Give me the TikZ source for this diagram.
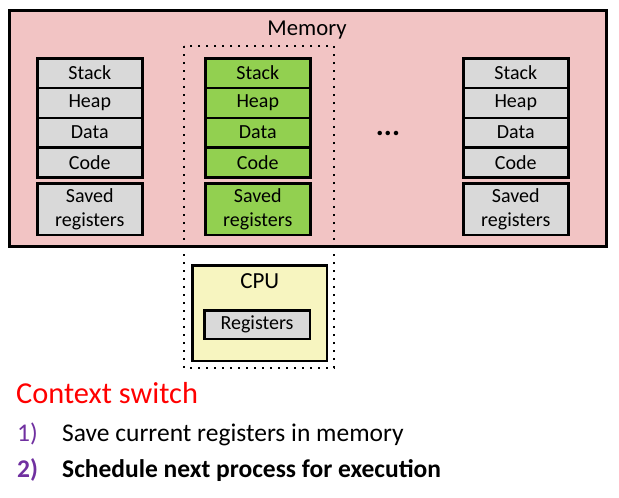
\documentclass[tikz,border=0pt]{standalone}
\usepackage{fontspec}
\setmainfont{Carlito}
\usetikzlibrary{positioning,calc}
\definecolor{mempink}{HTML}{F2C4C4}
\definecolor{seggray}{HTML}{D9D9D9}
\definecolor{activegreen}{HTML}{92D050}
\definecolor{cpuyellow}{HTML}{F7F5C0}
\definecolor{listpurple}{HTML}{7030A0}
\tikzset{
  seg/.style={draw,line width=2.5pt,minimum width=105pt,minimum height=29.75pt,
    inner sep=0pt,outer sep=0pt,font=\fontsize{20}{22}\selectfont},
  savedbox/.style={seg,minimum height=51.5pt,align=center,
    font=\fontsize{20}{24}\selectfont},
  listtext/.style={anchor=base west,inner sep=0pt,font=\fontsize{25.5}{28}\selectfont},
}
\begin{document}
\begin{tikzpicture}[x=1pt,y=-1pt]
\useasboundingbox (0,0) rectangle (619,498);
% memory
\draw[line width=3pt,fill=mempink] (9.5,10.5) rectangle (606.5,246.5);
\node (memlabel) at (307,35) [anchor=base,font=\fontsize{22.7}{25}\selectfont] {Memory};
% one address space per process
\foreach \p/\x/\c in {a/37.25/seggray,b/205.25/activegreen,c/463.25/seggray}{
  \node (stack\p) at (\x,58.25) [seg,fill=\c,anchor=north west] {Stack};
  \node (heap\p) [seg,fill=\c,below=0pt of stack\p] {Heap};
  \node (data\p) [seg,fill=\c,below=0pt of heap\p] {Data};
  \node (code\p) [seg,fill=\c,below=0pt of data\p] {Code};
  \node (saved\p) at (\x,183.25) [savedbox,fill=\c,anchor=north west] {Saved\\registers};
}
\node (dots) at (388,133) [font=\fontsize{30}{32}\selectfont\bfseries] {...};
% cpu
\node (cpu) at (191.25,264.25) [draw,line width=2.5pt,fill=cpuyellow,anchor=north west,
  minimum width=134.5pt,minimum height=95.5pt,inner sep=0pt] {};
\node (cpulabel) at ($(cpu.north)+(0,24)$) [anchor=base,font=\fontsize{23}{26}\selectfont] {CPU};
\node (regs) at (204.25,310.25) [seg,fill=seggray,anchor=north west,minimum width=105.5pt,
  minimum height=28.5pt] {Registers};
% running process
\draw[line width=2pt,dash pattern=on 2pt off 6pt] (184,46) rectangle (334,368);
% steps
\node (title) at (16,403) [listtext,text=red,font=\fontsize{30.4}{34}\selectfont] {Context switch};
\node (numone) at (17,441) [listtext,text=listpurple] {1)};
\node (stepone) at (62,441) [listtext] {Save current registers in memory};
\node (numtwo) at (17,477) [listtext,text=listpurple,font=\fontsize{25.5}{28}\selectfont\bfseries] {2)};
\node (steptwo) at (62,477) [listtext,font=\fontsize{25.5}{28}\selectfont\bfseries] {Schedule next process for execution};
\end{tikzpicture}
\end{document}
